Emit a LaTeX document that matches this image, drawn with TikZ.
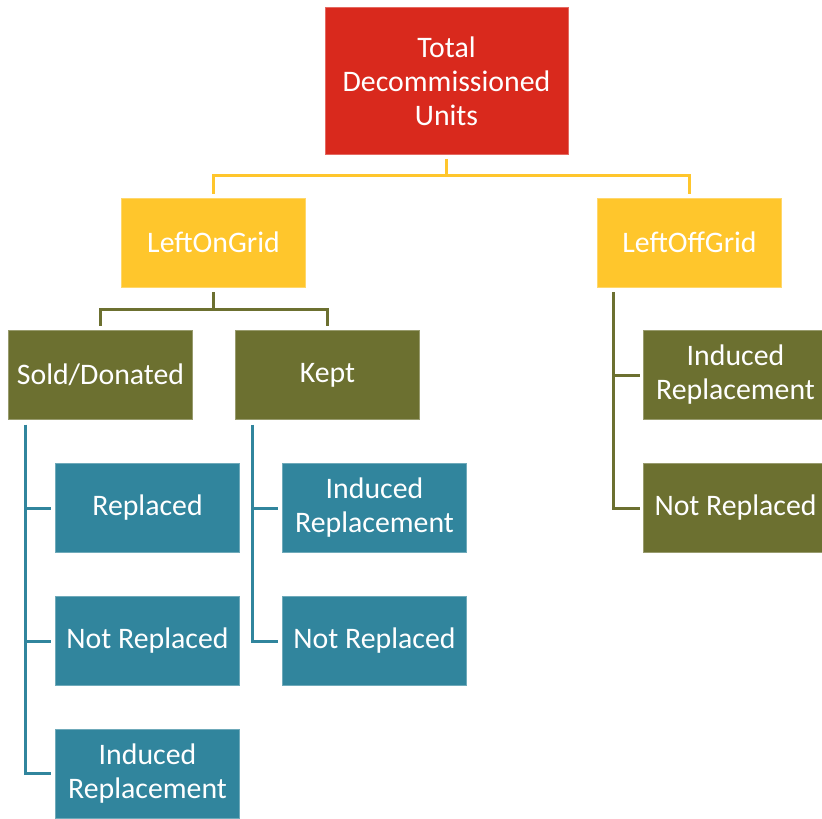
\documentclass[tikz,border=0pt]{standalone}
\usepackage{fontspec}
\setmainfont{Carlito}
\definecolor{cRed}{RGB}{217,41,29}
\definecolor{cYel}{RGB}{255,198,44}
\definecolor{cOli}{RGB}{108,112,48}
\definecolor{cTeal}{RGB}{49,133,157}
\begin{document}
\begin{tikzpicture}[x=1pt,y=-1pt,
  box/.style={rectangle, inner sep=0pt, minimum width=184pt, minimum height=89pt,
    align=center, text=white, line width=0.8pt,
    font=\fontsize{29.8}{34}\selectfont},
  redbox/.style={box, fill=cRed, draw=cRed!70!white, minimum width=243pt, minimum height=147pt},
  yelbox/.style={box, fill=cYel, draw=cYel!70!white},
  olibox/.style={box, fill=cOli, draw=cOli!70!white},
  tealbox/.style={box, fill=cTeal, draw=cTeal!70!white},
  yline/.style={draw=cYel, line width=3pt},
  oline/.style={draw=cOli, line width=3pt},
  tline/.style={draw=cTeal, line width=3pt}]
\useasboundingbox (0,0) rectangle (822,819);

% top level
\node[redbox] (tot) at (446.5,81) {Total\\Decommissioned\\Units};

% second level
\node[yelbox] (lon) at (213.5,242.5) {LeftOnGrid};
\node[yelbox] (loff) at (689.5,242.5) {LeftOffGrid};

% third level
\node[olibox] (sold) at (100.5,375) {Sold/Donated};
\node[olibox] (kept) at (327.5,375) {Kept};
\node[olibox] (offir) at (735.5,375) {Induced\\Replacement};
\node[olibox] (offnr) at (735.5,508) {Not Replaced};

% leaves under Sold/Donated
\node[tealbox] (srep) at (147.5,508) {Replaced};
\node[tealbox] (snr) at (147.5,641) {Not Replaced};
\node[tealbox] (sir) at (147.5,773.5) {Induced\\Replacement};

% leaves under Kept
\node[tealbox] (kir) at (374.5,508) {Induced\\Replacement};
\node[tealbox] (knr) at (374.5,641) {Not Replaced};

% connectors
\draw[yline] ([yshift=-4pt]tot.south) -- ++(0,-17pt) -| ([yshift=4pt]lon.north);
\draw[yline] ([yshift=-4pt]tot.south) -- ++(0,-17pt) -| ([yshift=4pt]loff.north);

\draw[oline] ([yshift=-5pt]lon.south) -- ++(0,-17pt) -| ([yshift=4pt]sold.north);
\draw[oline] ([yshift=-5pt]lon.south) -- ++(0,-17pt) -| ([yshift=4pt]kept.north);

\draw[oline] ([xshift=16pt,yshift=-5pt]loff.south west) |- ([xshift=-3pt]offir.west);
\draw[oline] ([xshift=16pt,yshift=-5pt]loff.south west) |- ([xshift=-3pt]offnr.west);

\draw[tline] ([xshift=17pt,yshift=-5pt]sold.south west) |- ([xshift=-4pt]srep.west);
\draw[tline] ([xshift=17pt,yshift=-5pt]sold.south west) |- ([xshift=-4pt]snr.west);
\draw[tline] ([xshift=17pt,yshift=-5pt]sold.south west) |- ([xshift=-4pt]sir.west);

\draw[tline] ([xshift=17pt,yshift=-5pt]kept.south west) |- ([xshift=-4pt]kir.west);
\draw[tline] ([xshift=17pt,yshift=-5pt]kept.south west) |- ([xshift=-4pt]knr.west);
\end{tikzpicture}
\end{document}
